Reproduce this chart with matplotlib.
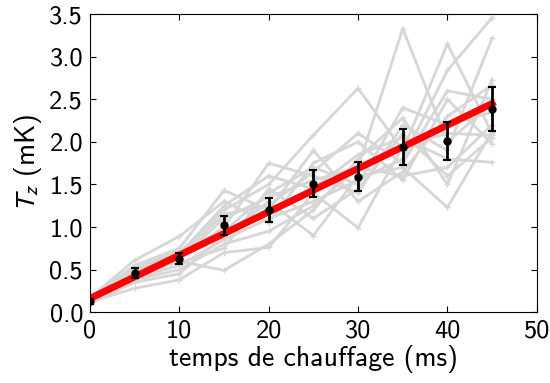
import numpy as np
import matplotlib
matplotlib.use("Agg")
import matplotlib.pyplot as plt

plt.rcParams['font.family'] = ['cmss10', 'DejaVu Sans']
plt.rcParams['mathtext.fontset'] = 'stixsans'
plt.rcParams['axes.unicode_minus'] = False

# temps de chauffage (ms)
t = [0, 5, 10, 15, 20, 25, 30, 35, 40, 45]

# runs individuels (mK)
runs = [
    [0.12, 0.45, 0.62, 1.10, 1.35, 1.55, 1.70, 3.33, 2.00, 2.45],
    [0.15, 0.50, 0.70, 1.20, 1.50, 2.08, 2.63, 1.90, 3.15, 2.10],
    [0.10, 0.40, 0.55, 0.85, 1.10, 1.30, 1.55, 1.80, 2.84, 3.46],
    [0.14, 0.48, 0.65, 1.00, 1.75, 1.60, 1.40, 2.20, 1.90, 3.22],
    [0.13, 0.42, 0.60, 0.49, 0.80, 1.20, 1.80, 2.28, 1.50, 2.73],
    [0.16, 0.55, 0.75, 1.43, 1.20, 1.90, 1.30, 1.65, 2.30, 2.67],
    [0.11, 0.35, 0.45, 0.90, 1.30, 0.90, 1.60, 1.70, 1.23, 2.12],
    [0.12, 0.28, 0.38, 0.70, 0.76, 1.40, 0.99, 1.95, 2.10, 2.08],
    [0.17, 0.61, 0.89, 1.30, 1.05, 1.75, 2.00, 1.55, 2.50, 1.98],
    [0.13, 0.47, 0.68, 1.25, 1.60, 1.45, 1.85, 2.05, 1.80, 1.76],
    [0.15, 0.52, 0.72, 0.95, 1.40, 1.70, 1.50, 2.40, 2.20, 2.35],
    [0.10, 0.38, 0.50, 0.80, 0.95, 1.25, 1.70, 1.60, 1.70, 2.20],
    [0.14, 0.44, 0.66, 1.15, 1.25, 1.65, 2.10, 1.75, 2.60, 2.50],
    [0.12, 0.50, 0.58, 0.75, 1.45, 1.10, 1.45, 2.10, 1.60, 2.05],
]

# moyenne et barres d'erreur
moy = [0.13, 0.46, 0.63, 1.02, 1.20, 1.51, 1.59, 1.94, 2.01, 2.39]
err = [0.03, 0.06, 0.07, 0.11, 0.14, 0.16, 0.17, 0.21, 0.22, 0.26]

# ajustement lineaire (pente en mK/ms, ordonnee a l'origine en mK)
pente = 0.0509
origine = 0.16

fig = plt.figure(figsize=(5.5, 3.83), dpi=100)
ax = fig.add_axes([0.1636, 0.185, 0.8124, 0.778])

for r in runs:
    ax.plot(t, r, color='#d6d6d6', lw=2, marker='+', ms=4, mew=1, zorder=1)

tt = np.array([t[0], t[-1]])
ax.plot(tt, origine + pente * tt, color='red', lw=5, zorder=2)
ax.errorbar(t, moy, yerr=err, fmt='o', color='black', ms=5, elinewidth=2,
            capsize=3, capthick=1.5, zorder=3)

ax.set_xlim(0, 50)
ax.set_ylim(0, 3.5)
ax.set_xticks([0, 10, 20, 30, 40, 50])
yt = np.arange(0, 3.51, 0.5)
ax.set_yticks(yt)
ax.set_yticklabels([f'{v:.1f}' for v in yt])
ax.tick_params(direction='in', top=True, right=True, labelsize=19, length=4, pad=5)
ax.set_xlabel('temps de chauffage (ms)', fontsize=20, labelpad=2)
ax.set_ylabel(r'$T_z$ (mK)', fontsize=20, labelpad=4)

fig.savefig('out.png', dpi=100)
